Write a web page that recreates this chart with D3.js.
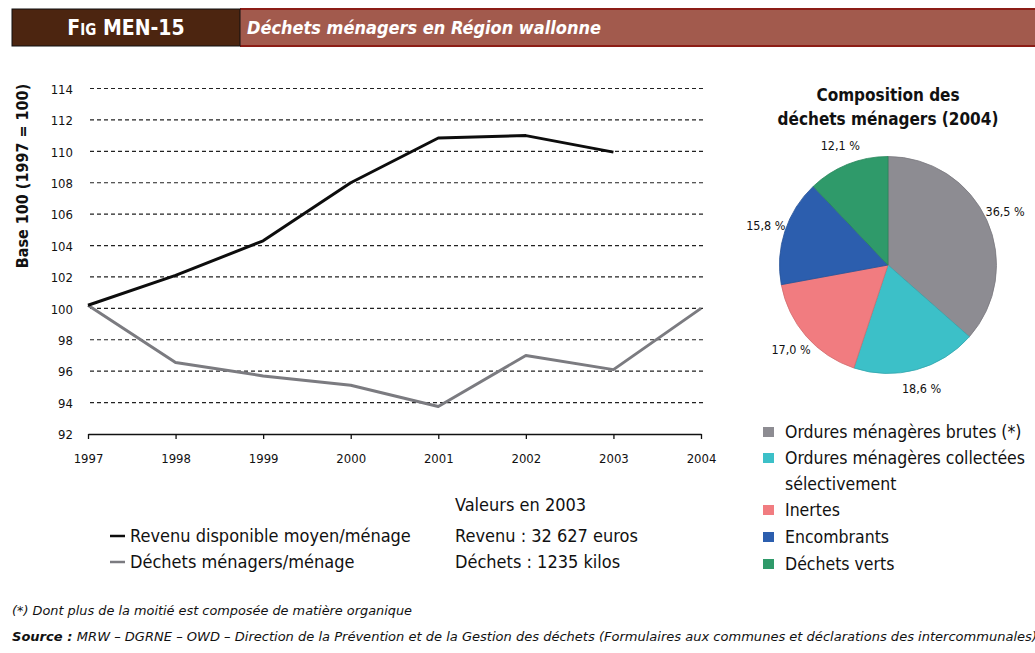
<!DOCTYPE html>
<meta charset="UTF-8">
<style>
body { margin: 0; background: #fff; }
svg text { font-family: "Liberation Sans Narrow", "DejaVu Sans Condensed", "Liberation Sans", sans-serif; }
.tick text { font-size: 13px; fill: #111; }
.grid line { stroke: #222; stroke-width: 1.2px; stroke-dasharray: 4 3; }
</style>
<body>
<script src="https://d3js.org/d3.v7.min.js"></script>
<script>
// data
var years = [1997, 1998, 1999, 2000, 2001, 2002, 2003, 2004];
var revenu = [100.2, 102.1, 104.3, 108.0, 110.85, 111.0, 109.95, null];
var dechets = [100.2, 96.55, 95.7, 95.1, 93.75, 97.0, 96.1, 100.0];
var yTicks = [92, 94, 96, 98, 100, 102, 104, 106, 108, 110, 112, 114];

var pieLabels = ["Ordures ménagères brutes (*)", "Ordures ménagères collectées sélectivement", "Inertes", "Encombrants", "Déchets verts"];
var pieValues = [36.5, 18.6, 17.0, 15.8, 12.1];
var pieText = ["36,5 %", "18,6 %", "17,0 %", "15,8 %", "12,1 %"];
var pieColors = ["#8d8c92", "#3cc0c8", "#f17c80", "#2c5eae", "#2f9a6a"];

var W = 1035, H = 653;
var svg = d3.select("body").append("svg").attr("width", W).attr("height", H);

// header band
svg.append("rect").attr("x", 240).attr("y", 8).attr("width", W - 240).attr("height", 39).attr("fill", "#a25a4d");
svg.append("rect").attr("x", 240).attr("y", 8).attr("width", W - 240).attr("height", 2).attr("fill", "#8c1d16");
svg.append("rect").attr("x", 240).attr("y", 45).attr("width", W - 240).attr("height", 2).attr("fill", "#8c1d16");
svg.append("rect").attr("x", 12).attr("y", 9).attr("width", 228).attr("height", 37)
  .attr("fill", "#4c2510").attr("stroke", "#111").attr("stroke-width", 1);
var fig = svg.append("text").attr("x", 126).attr("y", 35).attr("text-anchor", "middle")
  .attr("fill", "#fff").style("font-weight", "bold");
fig.append("tspan").style("font-size", "21px").text("F");
fig.append("tspan").style("font-size", "15px").text("IG");
fig.append("tspan").style("font-size", "21px").text(" MEN-15");
svg.append("text").attr("x", 247).attr("y", 34).attr("fill", "#fff")
  .style("font-size", "18px").style("font-weight", "bold").style("font-style", "italic")
  .text("Déchets ménagers en Région wallonne");

// line chart
var x = d3.scaleLinear().domain([1997, 2004]).range([88, 701]);
var y = d3.scaleLinear().domain([92, 114]).range([434, 88.5]);

svg.append("g").attr("class", "grid")
  .selectAll("line").data(yTicks.slice(1)).join("line")
  .attr("x1", 90).attr("x2", 703)
  .attr("y1", function(d) { return y(d); }).attr("y2", function(d) { return y(d); });

var xAxis = svg.append("g").attr("transform", "translate(0," + y(92) + ")")
  .call(d3.axisBottom(x).tickValues(years).tickFormat(d3.format("d")).tickSize(5).tickSizeOuter(0).tickPadding(15));
xAxis.select(".domain").attr("stroke", "#111").attr("stroke-width", 1.3);
xAxis.selectAll(".tick line").attr("stroke", "#111").attr("stroke-width", 1.3);

var yAxis = svg.append("g").attr("transform", "translate(73,0)")
  .call(d3.axisLeft(y).tickValues(yTicks).tickSize(0).tickPadding(0));
yAxis.select(".domain").remove();
yAxis.selectAll(".tick text").attr("dy", "0.36em");

svg.append("text").attr("transform", "translate(28,176) rotate(-90)").attr("text-anchor", "middle")
  .style("font-size", "16px").style("font-weight", "bold").attr("fill", "#111")
  .text("Base 100 (1997 = 100)");

var line = d3.line()
  .defined(function(d) { return d[1] != null; })
  .x(function(d) { return x(d[0]); })
  .y(function(d) { return y(d[1]); });

svg.append("path").datum(years.map(function(yr, i) { return [yr, dechets[i]]; }))
  .attr("d", line).attr("fill", "none").attr("stroke", "#7b7b80").attr("stroke-width", 3).attr("stroke-linejoin", "round");
svg.append("path").datum(years.map(function(yr, i) { return [yr, revenu[i]]; }))
  .attr("d", line).attr("fill", "none").attr("stroke", "#0d0d0d").attr("stroke-width", 3).attr("stroke-linejoin", "round");

// line legend
var lineLeg = [["Revenu disponible moyen/ménage", "#0d0d0d", 536], ["Déchets ménagers/ménage", "#7b7b80", 562]];
lineLeg.forEach(function(l) {
  svg.append("line").attr("x1", 110).attr("x2", 125).attr("y1", l[2]).attr("y2", l[2])
    .attr("stroke", l[1]).attr("stroke-width", 2.5);
  svg.append("text").attr("x", 130).attr("y", l[2] + 6).style("font-size", "18px").attr("fill", "#111").text(l[0]);
});
var vals = [["Valeurs en 2003", 511], ["Revenu : 32 627 euros", 542], ["Déchets : 1235 kilos", 568]];
vals.forEach(function(v) {
  svg.append("text").attr("x", 455).attr("y", v[1]).style("font-size", "18px").attr("fill", "#111").text(v[0]);
});

// pie
var cx = 888, cy = 265, r = 108.5;
svg.append("text").attr("x", cx).attr("y", 101).attr("text-anchor", "middle")
  .style("font-size", "17px").style("font-weight", "bold").attr("fill", "#111").text("Composition des");
svg.append("text").attr("x", cx).attr("y", 125).attr("text-anchor", "middle")
  .style("font-size", "17px").style("font-weight", "bold").attr("fill", "#111").text("déchets ménagers (2004)");

var pie = d3.pie().sort(null).value(function(d) { return d; });
var arcs = pie(pieValues);
var arc = d3.arc().innerRadius(0).outerRadius(r);
var labelArc = d3.arc().innerRadius(r + 20).outerRadius(r + 20);
var g = svg.append("g").attr("transform", "translate(" + cx + "," + cy + ")");
g.selectAll("path").data(arcs).join("path")
  .attr("d", arc).attr("fill", function(d, i) { return pieColors[i]; })
  .attr("stroke", function(d, i) { return d3.color(pieColors[i]).darker(0.4); }).attr("stroke-width", 0.8);
g.selectAll("text").data(arcs).join("text")
  .attr("transform", function(d) { return "translate(" + labelArc.centroid(d) + ")"; })
  .attr("text-anchor", "middle").attr("dy", "0.35em")
  .style("font-size", "12.5px").attr("fill", "#111")
  .text(function(d, i) { return pieText[i]; });

// pie legend
var legRows = [[0, 432, ["Ordures ménagères brutes (*)"]], [1, 458, ["Ordures ménagères collectées", "sélectivement"]],
  [2, 510, ["Inertes"]], [3, 537, ["Encombrants"]], [4, 564, ["Déchets verts"]]];
legRows.forEach(function(row) {
  svg.append("rect").attr("x", 763).attr("y", row[1] - 5).attr("width", 11).attr("height", 10)
    .attr("fill", pieColors[row[0]]);
  row[2].forEach(function(t, j) {
    svg.append("text").attr("x", 785).attr("y", row[1] + 6 + j * 26).style("font-size", "17.5px").attr("fill", "#111").text(t);
  });
});

// footnotes
svg.append("text").attr("x", 12).attr("y", 615).style("font-size", "12px").style("font-style", "italic")
  .attr("fill", "#111").attr("textLength", 400).attr("lengthAdjust", "spacingAndGlyphs")
  .text("(*) Dont plus de la moitié est composée de matière organique");
var src = svg.append("text").attr("x", 12).attr("y", 641).style("font-size", "12px").style("font-style", "italic")
  .attr("fill", "#111").attr("textLength", 1025).attr("lengthAdjust", "spacingAndGlyphs");
src.append("tspan").style("font-weight", "bold").text("Source : ");
src.append("tspan").text("MRW – DGRNE – OWD – Direction de la Prévention et de la Gestion des déchets (Formulaires aux communes et déclarations des intercommunales)");
</script>
</body>
